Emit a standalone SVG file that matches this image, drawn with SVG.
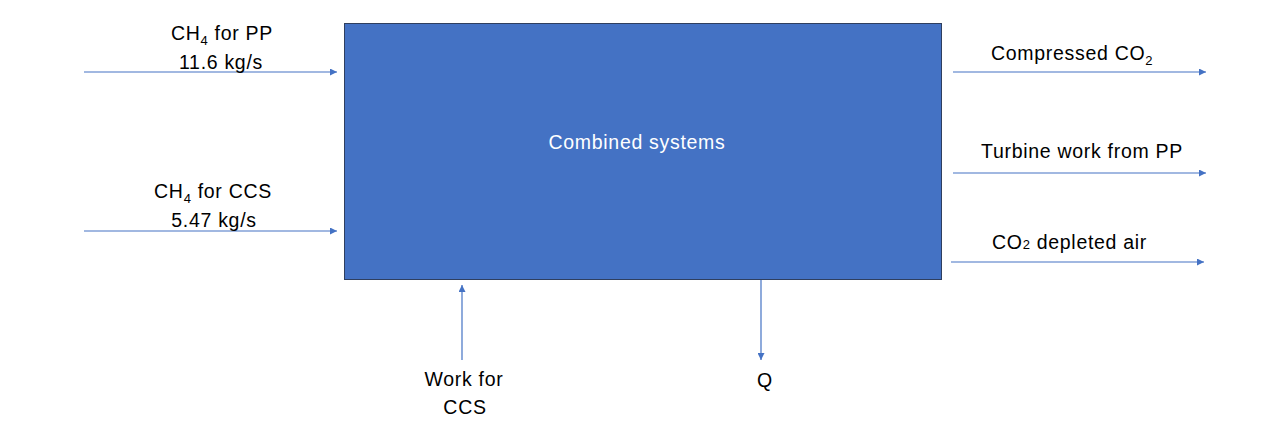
<svg xmlns="http://www.w3.org/2000/svg" width="1280" height="435" viewBox="0 0 1280 435">
<style>
.t{font-family:"Liberation Sans",Arial,sans-serif;font-size:19.5px;letter-spacing:0.7px;fill:#000}
.w{fill:#fff}
.c{stroke:#4472C4;stroke-width:1.2;fill:none}
</style>
<defs>
<marker id="ah" viewBox="0 0 10 10" refX="10" refY="5" markerWidth="9" markerHeight="7" markerUnits="userSpaceOnUse" orient="auto">
<path d="M0,0 L10,5 L0,10 z" fill="#4472C4"/>
</marker>
</defs>
<rect width="1280" height="435" fill="#fff"/>
<g id="box">
<rect x="344.5" y="23.5" width="597" height="256" fill="#4472C4" stroke="#2F3F5F" stroke-width="1"/>
<text class="t w" x="637" y="149" text-anchor="middle">Combined systems</text>
</g>
<g id="connectors">
<line class="c" x1="84" y1="72" x2="337" y2="72" marker-end="url(#ah)"/>
<line class="c" x1="84" y1="231" x2="337" y2="231" marker-end="url(#ah)"/>
<line class="c" x1="953" y1="72" x2="1206" y2="72" marker-end="url(#ah)"/>
<line class="c" x1="953" y1="173" x2="1206" y2="173" marker-end="url(#ah)"/>
<line class="c" x1="951" y1="262" x2="1204" y2="262" marker-end="url(#ah)"/>
<line class="c" x1="462" y1="360" x2="462" y2="285" marker-end="url(#ah)"/>
<line class="c" x1="761" y1="280" x2="761" y2="360" marker-end="url(#ah)"/>
</g>
<g id="in-pp">
<text class="t" x="222" y="40" text-anchor="middle">CH<tspan font-size="13" dy="5">4</tspan><tspan dy="-5"> for PP</tspan></text>
<text class="t" x="221" y="69" text-anchor="middle">11.6 kg/s</text>
</g>
<g id="in-ccs">
<text class="t" x="213" y="198" text-anchor="middle">CH<tspan font-size="13" dy="5">4</tspan><tspan dy="-5"> for CCS</tspan></text>
<text class="t" x="214" y="227" text-anchor="middle">5.47 kg/s</text>
</g>
<g id="out-co2">
<text class="t" x="991" y="60">Compressed CO<tspan font-size="13" dy="5">2</tspan></text>
</g>
<g id="out-work">
<text class="t" x="1082" y="158" text-anchor="middle">Turbine work from PP</text>
</g>
<g id="out-air">
<text class="t" x="992" y="249">CO<tspan font-size="13">2</tspan> depleted air</text>
</g>
<g id="in-work">
<text class="t" x="464" y="386" text-anchor="middle">Work for</text>
<text class="t" x="465" y="414" text-anchor="middle">CCS</text>
</g>
<g id="out-q">
<text class="t" x="765" y="387" text-anchor="middle">Q</text>
</g>
</svg>
